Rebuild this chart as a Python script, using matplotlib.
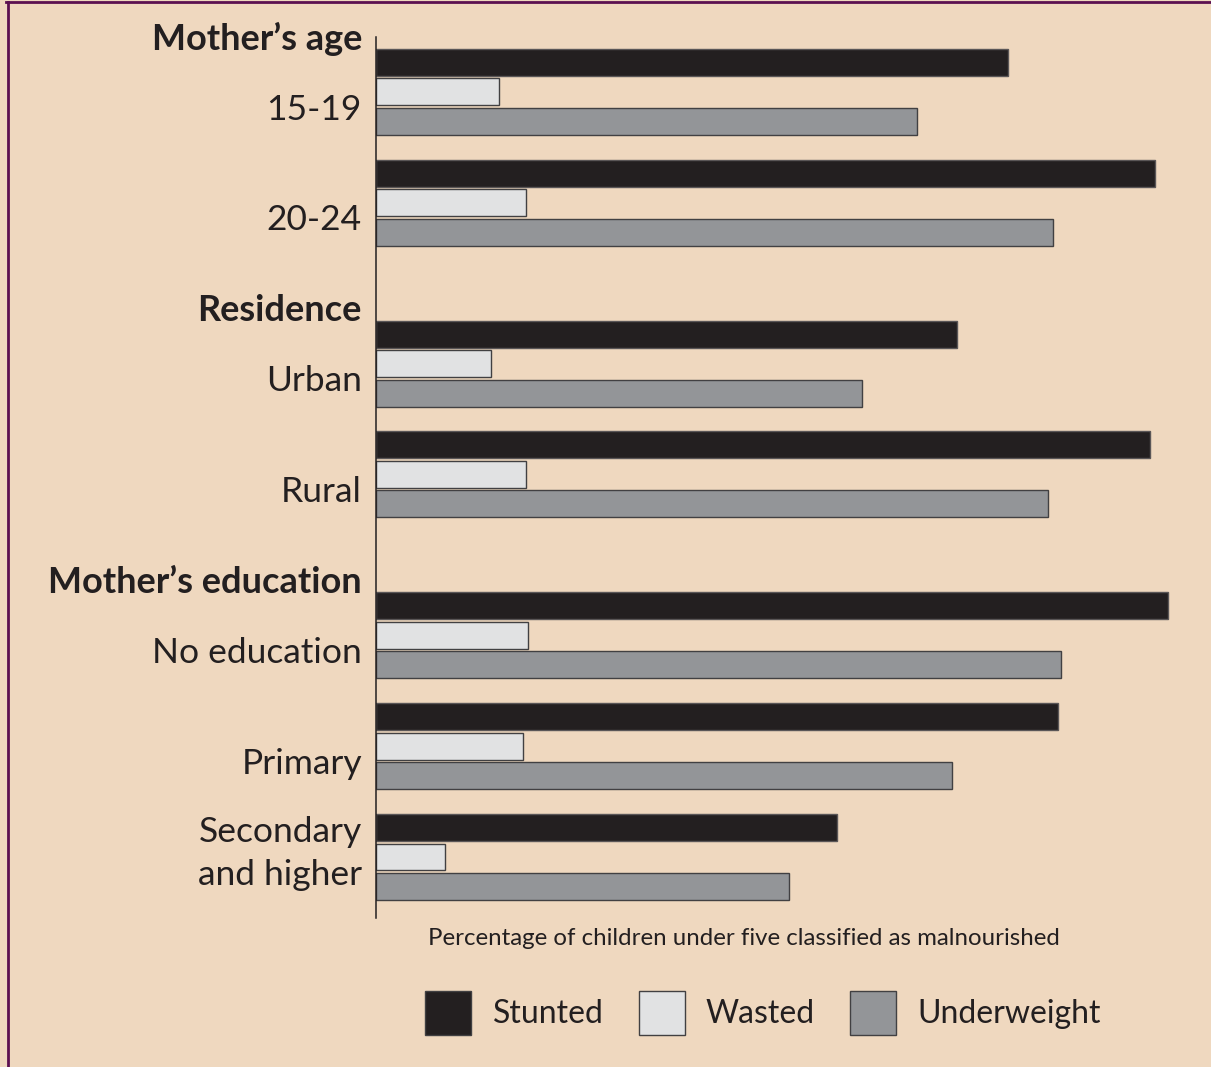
import matplotlib
matplotlib.use("Agg")
import matplotlib.pyplot as plt
import matplotlib.transforms as mtransforms
from matplotlib.patches import Patch
from matplotlib.lines import Line2D

# ---- data -------------------------------------------------------------
sections = ["Mother’s age", "Residence", "Mother’s education"]
categories = ["15-19", "20-24", "Urban", "Rural",
              "No education", "Primary", "Secondary\nand higher"]
section_of = [0, 0, 1, 1, 2, 2, 2]

stunted = [39.5, 48.7, 36.3, 48.4, 49.5, 42.6, 28.8]
wasted = [7.7, 9.4, 7.2, 9.4, 9.5, 9.2, 4.3]
underweight = [33.8, 42.3, 30.4, 42.0, 42.8, 36.0, 25.8]

series_names = ["Stunted", "Wasted", "Underweight"]
axis_title = "Percentage of children under five classified as malnourished"

# ---- style ------------------------------------------------------------
BG = "#EFD8BF"
INK = "#231F20"
EDGE = "#414042"
COLORS = ["#231F20", "#E1E2E3", "#939598"]
FRAME = "#5B1050"
FONT = ["Lato", "DejaVu Sans"]
plt.rcParams["font.family"] = FONT

W, H = 1211, 1067
fig = plt.figure(figsize=(W / 100, H / 100), dpi=100, facecolor=BG)

ax_left, ax_right, ax_top, ax_bottom = 376, 1176, 37, 918
ax = fig.add_axes([ax_left / W, 1 - ax_bottom / H,
                   (ax_right - ax_left) / W, (ax_bottom - ax_top) / H])
ax.set_facecolor("none")

# vertical layout: one unit per category, extra room before a new section
HEADER_GAP = 0.45
pos = []
y = 0.0
for i, s in enumerate(section_of):
    if i > 0:
        y += 1.0 + (HEADER_GAP if s != section_of[i - 1] else 0.0)
    pos.append(y)

BAR_H = 0.243
STEP = 0.266
for k, (vals, col) in enumerate(zip([stunted, wasted, underweight], COLORS)):
    ys = [p + (k - 1) * STEP for p in pos]
    ax.barh(ys, vals, height=BAR_H, color=col,
            edgecolor=EDGE if k else "#5a5657", linewidth=1.0, zorder=2)

ax.set_xlim(0, 50)
ax.set_ylim(pos[-1] + 0.55, pos[0] - 0.495)

for side in ["top", "right", "bottom"]:
    ax.spines[side].set_visible(False)
ax.spines["left"].set_color(INK)
ax.spines["left"].set_linewidth(1.1)
ax.set_xticks([])
ax.set_yticks([])

# category and section labels left of the axis
lab_tr = mtransforms.offset_copy(ax.get_yaxis_transform(), fig=fig,
                                 x=-14, y=0, units="dots")
for p, name in zip(pos, categories):
    ax.text(0, p + 0.25, name, transform=lab_tr, ha="right", va="baseline",
            fontsize=25.5, color=INK, linespacing=1.43)

for si, sec in enumerate(sections):
    first = pos[section_of.index(si)]
    ax.text(0, first - 0.38, sec, transform=lab_tr, ha="right", va="baseline",
            fontsize=26, fontweight="bold", color=INK)

ax.set_xlabel(axis_title, fontsize=17.3, color=INK, va="top")
ax.xaxis.set_label_coords((744 - ax_left) / (ax_right - ax_left), -0.011)

handles = [Patch(facecolor=c, edgecolor=EDGE, linewidth=1.0) for c in COLORS]
leg = fig.legend(handles, series_names, loc="center",
                 bbox_to_anchor=(763 / W, 1 - 1013 / H), ncol=3, frameon=False,
                 fontsize=23, handlelength=1.44, handleheight=1.79,
                 handletextpad=0.66, columnspacing=1.1, borderpad=0)
for t in leg.get_texts():
    t.set_color(INK)

# thin frame along the top and left edges
fig.add_artist(Line2D([6 / W, 1], [1 - 2 / H, 1 - 2 / H], transform=fig.transFigure,
                      color=FRAME, linewidth=2.0))
fig.add_artist(Line2D([7.5 / W, 7.5 / W], [0, 1 - 2 / H], transform=fig.transFigure,
                      color=FRAME, linewidth=2.0))

fig.savefig("out.png", dpi=100, facecolor=BG)
